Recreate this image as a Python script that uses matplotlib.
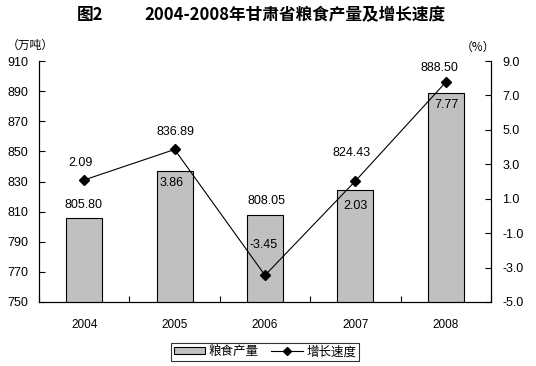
import numpy as np
import matplotlib
matplotlib.use("Agg")
from matplotlib import pyplot as plt

plt.rcParams['font.family'] = ['Liberation Sans', 'Noto Sans CJK SC', 'DejaVu Sans']

years = ["2004", "2005", "2006", "2007", "2008"]
output = [805.80, 836.89, 808.05, 824.43, 888.50]   # 粮食产量 (万吨)
growth = [2.09, 3.86, -3.45, 2.03, 7.77]            # 增长速度 (%)

# label offsets in pixels (dx, dy), placed by hand like in the original
out_off = [(-1, 13), (1, 39), (2, 14), (-4, 37), (-6, 25)]
gr_off = [(-4, 17), (-3, -34), (-1, 30), (0, -25), (1, -23)]

fig = plt.figure(figsize=(5.36, 3.66), dpi=100)
ax = fig.add_axes([39/536, 64/366, 452/536, 241/366])
ax2 = ax.twinx()

x = np.arange(len(years))
bars = ax.bar(x, output, width=0.4, color='#C0C0C0', edgecolor='black',
              linewidth=0.8, label='粮食产量', zorder=2)
ax.set_ylim(750, 910)
ax.set_yticks(np.arange(750, 911, 20))
ax.set_xlim(-0.5, 4.5)
ax.set_xticks(np.arange(-0.5, 4.6, 1))
ax.set_xticklabels([])
ax.set_xticks(x, minor=True)
ax.set_xticklabels(years, minor=True)
ax.tick_params(axis='x', which='major', direction='in', length=4, width=0.8)
ax.tick_params(axis='x', which='minor', length=0, pad=12, labelsize=8.5)
ax.tick_params(axis='y', direction='in', length=4, width=0.8, labelsize=9, pad=8)
ax.spines['top'].set_visible(False)

line, = ax2.plot(x, growth, color='black', linewidth=0.8, marker='D',
                 markersize=5.5, label='增长速度', zorder=3)
ax2.set_ylim(-5, 9)
ax2.set_yticks(np.arange(-5, 9.1, 2))
ax2.set_yticklabels(["%.1f" % v for v in np.arange(-5, 9.1, 2)])
ax2.tick_params(axis='y', direction='in', length=4, width=0.8, labelsize=9, pad=8)
ax2.spines['top'].set_visible(False)
for s in ['left', 'right', 'bottom']:
    ax.spines[s].set_linewidth(0.8)
    ax2.spines[s].set_linewidth(0.8)

for i in range(len(years)):
    ax.annotate("%.2f" % output[i], (x[i], output[i]), xytext=out_off[i],
                textcoords='offset pixels', ha='center', va='center', fontsize=9)
    ax2.annotate("%.2f" % growth[i], (x[i], growth[i]), xytext=gr_off[i],
                 textcoords='offset pixels', ha='center', va='center', fontsize=9)

fig.text(30/536, 1 - 45/366, "（万吨）", ha='center', va='center', fontsize=8.5,
         family=['Noto Sans CJK SC'])
fig.text(478/536, 1 - 47/366, "（%）", ha='center', va='center', fontsize=8.5,
         family=['Noto Sans CJK SC'])

fig.text(90/536, 1 - 15/366, "图2", ha='center', va='center', fontsize=12,
         fontweight='bold', family=['Noto Sans CJK SC'])
fig.text(295/536, 1 - 15/366, "2004-2008年甘肃省粮食产量及增长速度", ha='center',
         va='center', fontsize=12, fontweight='bold', family=['Noto Sans CJK SC'])

leg = fig.legend([bars, line], ['粮食产量', '增长速度'], loc='center',
                 bbox_to_anchor=(265/536, 1 - 352/366), ncol=2, fontsize=9,
                 frameon=True, fancybox=False, edgecolor='black',
                 handlelength=2.5, handletextpad=0.3, columnspacing=1.0,
                 borderpad=0.2, handleheight=0.5, markerscale=0.8)
leg.get_frame().set_linewidth(0.8)

fig.savefig("out.png", dpi=100)
